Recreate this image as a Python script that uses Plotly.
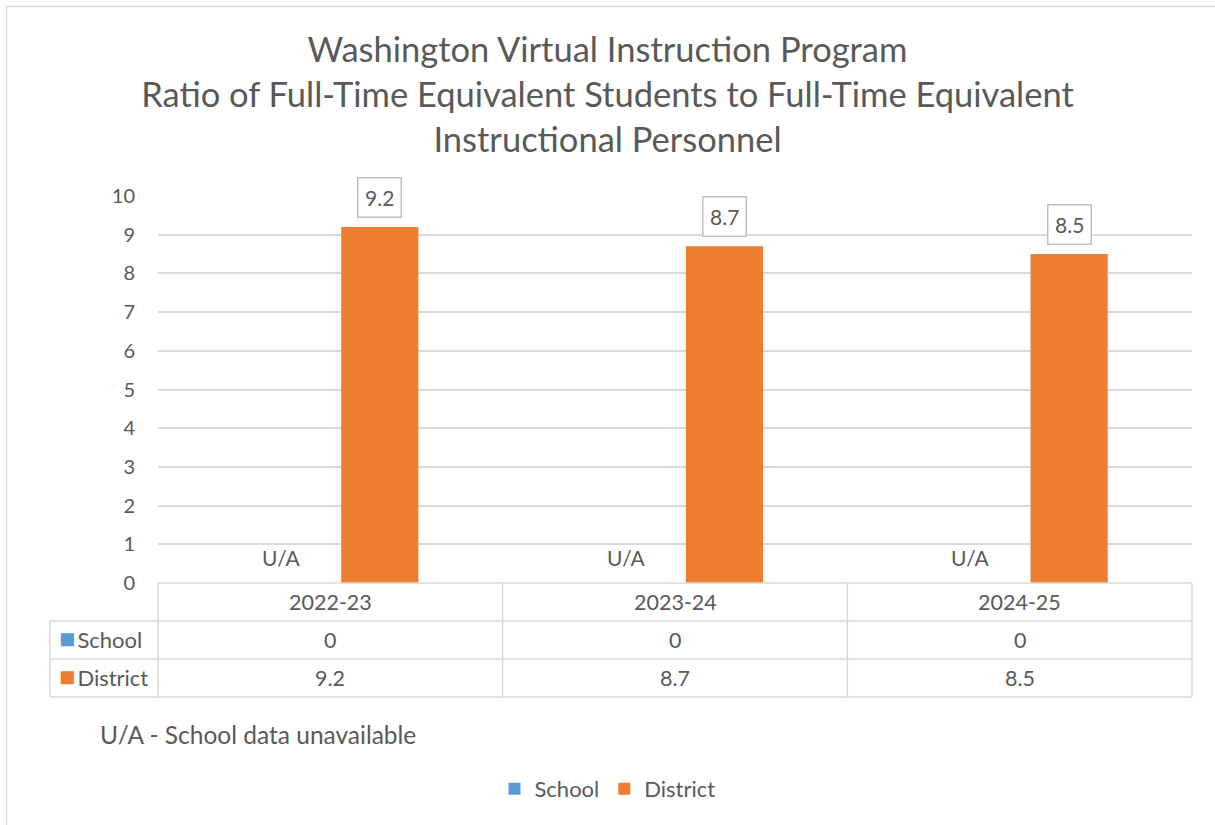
import plotly.graph_objects as go

# ---- data ----
categories = ["2022-23", "2023-24", "2024-25"]
school_values = [0, 0, 0]
district_values = [9.2, 8.7, 8.5]
school_labels = ["U/A", "U/A", "U/A"]
y_ticks = [0, 1, 2, 3, 4, 5, 6, 7, 8, 9, 10]

SCHOOL_C = "#5B9BD5"
DISTRICT_C = "#ED7D31"
TXT = "#595959"
GRID = "#D9D9D9"
FONT = "Lato"

W, H = 1215, 825
PL, PR, PT, PB = 158, 1192, 196, 583


def px_x(px):
    return (px - PL) / (PR - PL)


def px_y(py):
    return (PB - py) / (PB - PT)


fig = go.Figure()
fig.add_trace(go.Bar(name="School", x=categories, y=school_values,
                     marker=dict(color=SCHOOL_C, line=dict(width=0))))
fig.add_trace(go.Bar(name="District", x=categories, y=district_values,
                     marker=dict(color=DISTRICT_C, line=dict(width=0))))

slot = (PR - PL) / len(categories) * (1 - 0.426) / 2
annotations = []
for c, v in zip(categories, district_values):
    annotations.append(dict(x=c, y=v, xref="x", yref="y", text=f"{v}",
                            showarrow=False, xshift=slot / 2, yshift=9,
                            yanchor="bottom", font=dict(family=FONT, size=21, color=TXT),
                            bordercolor="#BFBFBF", borderwidth=1.5, borderpad=6.5,
                            bgcolor="white"))
for c, lab in zip(categories, school_labels):
    annotations.append(dict(x=c, y=0, xref="x", yref="y", text=lab,
                            showarrow=False, xshift=-slot / 2, yshift=26,
                            yanchor="middle", font=dict(family=FONT, size=21, color=TXT)))

# data table text
rows = [(602, None, categories),
        (640, ("School", SCHOOL_C), [str(v) for v in school_values]),
        (678, ("District", DISTRICT_C), [str(v) for v in district_values])]
for py, head, vals in rows:
    for c, t in zip(categories, vals):
        annotations.append(dict(x=c, y=px_y(py), xref="x", yref="paper", text=t,
                                showarrow=False, yanchor="middle",
                                font=dict(family=FONT, size=21.5, color=TXT)))
    if head:
        annotations.append(dict(x=px_x(57), y=px_y(py - 2.5), xref="paper", yref="paper",
                                text=f'<span style="color:{head[1]};font-size:27px">■</span>'
                                     f'<span style="font-size:8px"> </span>{head[0]}',
                                showarrow=False, xanchor="left", yanchor="middle",
                                font=dict(family=FONT, size=22, color=TXT)))

annotations.append(dict(x=px_x(98), y=px_y(734), xref="paper", yref="paper",
                        text="U/A - School data unavailable", showarrow=False,
                        xanchor="left", yanchor="middle",
                        font=dict(family=FONT, size=24.5, color=TXT)))

shapes = []
line = dict(color=GRID, width=1.5)
for py, x0 in [(583, 158), (621, 50), (659, 50), (697, 50)]:
    shapes.append(dict(type="line", xref="paper", yref="paper",
                       x0=px_x(x0), x1=1, y0=px_y(py), y1=px_y(py), line=line))
shapes.append(dict(type="line", xref="paper", yref="paper",
                   x0=px_x(50), x1=px_x(50), y0=px_y(621), y1=px_y(697), line=line))
for i in range(len(categories) + 1):
    xx = i / len(categories)
    shapes.append(dict(type="line", xref="paper", yref="paper",
                       x0=xx, x1=xx, y0=px_y(583), y1=px_y(697), line=line))
# outer chart border
shapes.append(dict(type="rect", xref="paper", yref="paper",
                   x0=px_x(6.5), x1=px_x(1300), y0=px_y(6.5), y1=px_y(900),
                   line=dict(color=GRID, width=1.5), fillcolor="rgba(0,0,0,0)"))

fig.update_layout(
    width=W, height=H,
    margin=dict(l=PL, r=W - PR, t=PT, b=H - PB, autoexpand=False),
    paper_bgcolor="white", plot_bgcolor="white",
    barmode="group", bargap=0.426, bargroupgap=0.22,
    title=dict(text="Washington Virtual Instruction Program<br>"
                    "Ratio of Full-Time Equivalent Students to Full-Time Equivalent<br>"
                    "Instructional Personnel",
               x=0.5, xref="container", xanchor="center",
               y=1 - 62 / H, yref="container", yanchor="top",
               font=dict(family=FONT, size=34.5, color=TXT)),
    xaxis=dict(showticklabels=False, showgrid=False, zeroline=False, showline=False,
               ticks=""),
    yaxis=dict(range=[0, 10], tickvals=y_ticks, showgrid=True, gridcolor=GRID,
               gridwidth=1.5, zeroline=False, showline=False, ticks="",
               ticklabelstandoff=22,
               tickfont=dict(family=FONT, size=20, color=TXT)),
    legend=dict(orientation="h", x=0.5, xanchor="center", xref="container",
                y=px_y(789), yanchor="middle", itemwidth=30,
                font=dict(family=FONT, size=22, color=TXT), traceorder="normal"),
    annotations=annotations, shapes=shapes,
    font=dict(family=FONT, color=TXT),
)

fig.write_html("out.html", config={"displayModeBar": False},
               post_script="document.body.style.margin='0';")
